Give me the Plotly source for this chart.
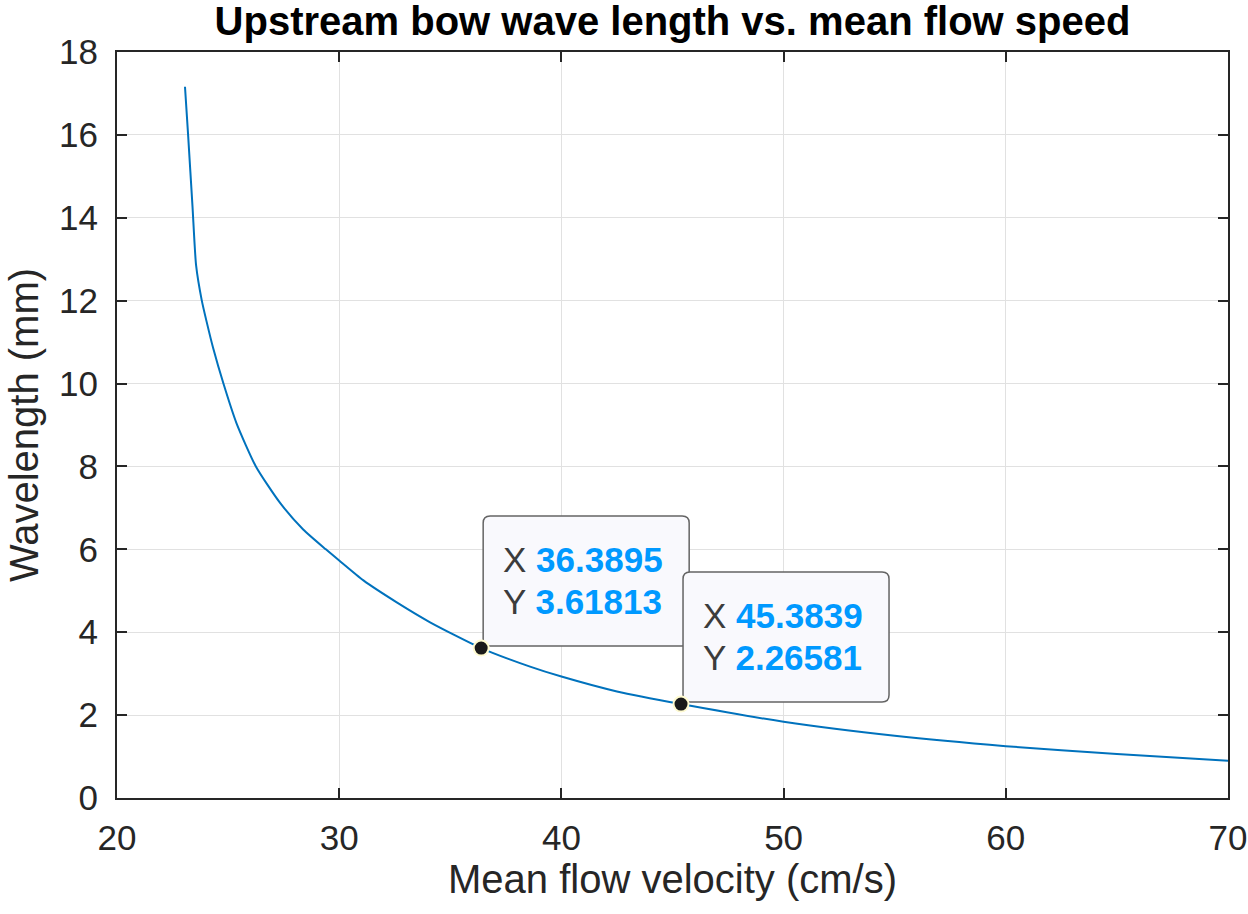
import plotly.graph_objects as go

# Mean flow velocity (cm/s) and upstream bow wave length (mm)
velocity = [23.06, 23.20, 23.40, 23.56, 23.81, 24.03, 24.33, 24.79, 25.38, 26.25,
            27.34, 28.38, 29.40, 30.00, 31.09, 32.59, 34.09, 36.3895, 38.59, 40.00,
            42.50, 45.3839, 50.00, 55.00, 60.00, 65.00, 70.00]
wavelength = [17.16, 16.00, 14.25, 12.85, 12.02, 11.50, 10.85, 10.00, 9.04, 8.00,
              7.12, 6.48, 6.00, 5.73, 5.25, 4.72, 4.24, 3.61813, 3.17, 2.93,
              2.57, 2.26581, 1.84, 1.50, 1.25, 1.06, 0.90]

# Data tips
tip_x = [36.3895, 45.3839]
tip_y = [3.61813, 2.26581]
tip_x_text = ["36.3895", "45.3839"]
tip_y_text = ["3.61813", "2.26581"]

x_ticks = [20, 30, 40, 50, 60, 70]
y_ticks = [0, 2, 4, 6, 8, 10, 12, 14, 16, 18]

FONT = "Liberation Sans, Arial, Helvetica, sans-serif"
AXIS_COLOR = "rgb(38,38,38)"
GRID_COLOR = "rgb(225,225,225)"
TIP_VALUE_COLOR = "rgb(0,153,255)"

fig = go.Figure()
fig.add_trace(go.Scatter(
    x=velocity, y=wavelength, mode="lines",
    line=dict(color="#0072BD", width=2, shape="spline", smoothing=0.6),
    hoverinfo="skip", showlegend=False,
))
fig.add_trace(go.Scatter(
    x=tip_x, y=tip_y, mode="markers",
    marker=dict(color="#1a1a1a", size=15, line=dict(color="#fffbd0", width=2)),
    hoverinfo="skip", showlegend=False,
))


def rounded_box(w, h, r, dx=2, dy=2):
    """Rounded rectangle path in pixel offsets from the anchor (y pointing up)."""
    x0, x1, y0, y1 = dx, dx + w, dy, dy + h
    return (f"M {x0 + r},{y0} L {x1 - r},{y0} Q {x1},{y0} {x1},{y0 + r} "
            f"L {x1},{y1 - r} Q {x1},{y1} {x1 - r},{y1} "
            f"L {x0 + r},{y1} Q {x0},{y1} {x0},{y1 - r} "
            f"L {x0},{y0 + r} Q {x0},{y0} {x0 + r},{y0} Z")


for xv, yv, xs, ys in zip(tip_x, tip_y, tip_x_text, tip_y_text):
    fig.add_shape(
        type="path", xref="x", yref="y",
        xsizemode="pixel", ysizemode="pixel", xanchor=xv, yanchor=yv,
        path=rounded_box(206, 130, 7),
        fillcolor="rgb(249,249,253)", line=dict(color="rgb(100,100,100)", width=1.5),
        layer="between",
    )
    for label, value, shift in (("X", xs, 89), ("Y", ys, 47)):
        fig.add_annotation(
            x=xv, y=yv, xref="x", yref="y",
            xanchor="left", yanchor="middle", showarrow=False,
            xshift=20, yshift=shift,
            text=f"{label} <b><span style='color:{TIP_VALUE_COLOR}'>{value}</span></b>",
            font=dict(family=FONT, size=35, color="rgb(60,60,60)"),
        )

axis_common = dict(
    showline=True, linecolor=AXIS_COLOR, linewidth=2, mirror="ticks",
    ticks="inside", ticklen=10, tickwidth=2, tickcolor=AXIS_COLOR,
    showgrid=True, gridcolor=GRID_COLOR, gridwidth=1, zeroline=False,
    tickfont=dict(family=FONT, size=35, color=AXIS_COLOR),
    automargin=False,
)

fig.update_xaxes(
    range=[20, 70], tickvals=x_ticks, ticktext=[str(v) for v in x_ticks],
    title=dict(text="Mean flow velocity (cm/s)",
               font=dict(family=FONT, size=40, color=AXIS_COLOR), standoff=6),
    ticklabelstandoff=8,
    **axis_common,
)
fig.update_yaxes(
    range=[0, 18], tickvals=y_ticks, ticktext=[str(v) for v in y_ticks],
    title=dict(text="Wavelength (mm)",
               font=dict(family=FONT, size=40, color=AXIS_COLOR), standoff=8),
    ticklabelstandoff=10,
    **axis_common,
)

fig.update_layout(
    width=1248, height=914,
    margin=dict(l=117, r=20, t=52, b=116),
    paper_bgcolor="white", plot_bgcolor="white",
    title=dict(text="<b>Upstream bow wave length vs. mean flow speed</b>",
               x=0.5, xref="paper", y=1 - 21 / 914, yref="container",
               yanchor="middle",
               font=dict(family=FONT, size=40, color="black")),
)

fig.write_html("out.html")
